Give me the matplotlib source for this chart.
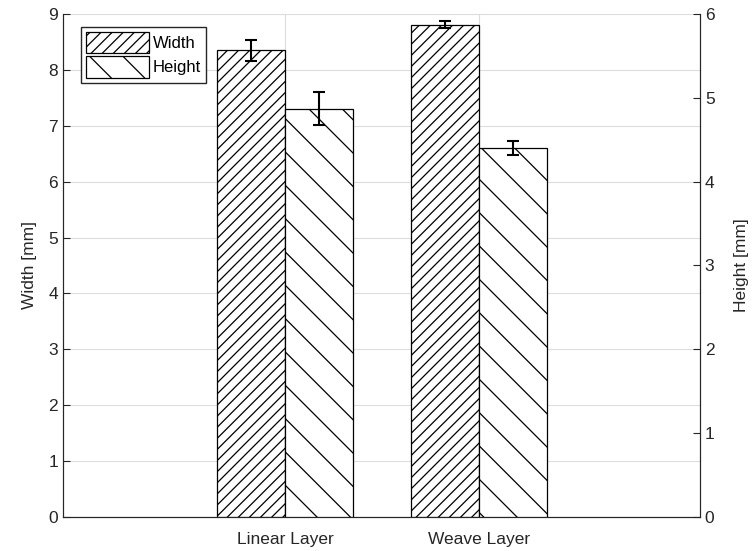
import numpy as np
import matplotlib.pyplot as plt

plt.rcParams['font.family'] = ['Liberation Sans', 'DejaVu Sans']
plt.rcParams['hatch.linewidth'] = 0.9

layers = ["Linear Layer", "Weave Layer"]
width_mm = [8.35, 8.81]
width_err = [0.19, 0.065]
height_mm = [4.87, 4.40]
height_err = [0.20, 0.08]

x = np.arange(len(layers))
bw = 0.35
axc = '#262626'

fig = plt.figure(figsize=(7.53, 5.51), dpi=100)
ax = fig.add_axes([0.0837, 0.0617, 0.8459, 0.9129])
ax2 = ax.twinx()

ax.bar(x - bw / 2, width_mm, bw, color='white', edgecolor='black', linewidth=0.9,
       hatch='///', label='Width', zorder=3)
ax.errorbar(x - bw / 2, width_mm, yerr=width_err, fmt='none', ecolor='black',
            elinewidth=1.5, capsize=4, capthick=1.5, zorder=4)
ax2.bar(x + bw / 2, height_mm, bw, color='white', edgecolor='black', linewidth=0.9,
        hatch='\\', label='Height', zorder=3)
ax2.errorbar(x + bw / 2, height_mm, yerr=height_err, fmt='none', ecolor='black',
             elinewidth=1.5, capsize=4, capthick=1.5, zorder=4)

ax.set_xlim(-1.144, 2.139)
ax.set_ylim(0, 9)
ax2.set_ylim(0, 6)
ax.set_yticks(range(0, 10))
ax2.set_yticks(range(0, 7))
ax.set_xticks(x)
ax.set_xticklabels(layers)

ax.grid(True, color='#dcdcdc', linewidth=0.8, zorder=0)
ax.set_axisbelow(True)

ax.set_ylabel('Width [mm]', fontsize=12.5, color=axc, labelpad=8)
ax2.set_ylabel('Height [mm]', fontsize=12.5, color=axc, labelpad=14)

for a in (ax, ax2):
    a.tick_params(direction='in', labelsize=12.5, colors=axc, length=5)
    a.spines['top'].set_visible(False)
    for s in ('left', 'right', 'bottom'):
        a.spines[s].set_color(axc)
        a.spines[s].set_linewidth(0.8)
ax.tick_params(axis='x', length=0, pad=11)
ax2.set_zorder(ax.get_zorder() + 1)
ax2.patch.set_visible(False)

h1, l1 = ax.get_legend_handles_labels()
h2, l2 = ax2.get_legend_handles_labels()
ax2.legend(h1 + h2, l1 + l2, loc='upper left', bbox_to_anchor=(0.02, 0.985),
           fancybox=False, edgecolor=axc, fontsize=12, handlelength=3.8,
           handleheight=1.6, handletextpad=0.2, borderpad=0.3, labelspacing=0.2,
           borderaxespad=0.3, framealpha=1)

fig.savefig('out.png', dpi=100)
